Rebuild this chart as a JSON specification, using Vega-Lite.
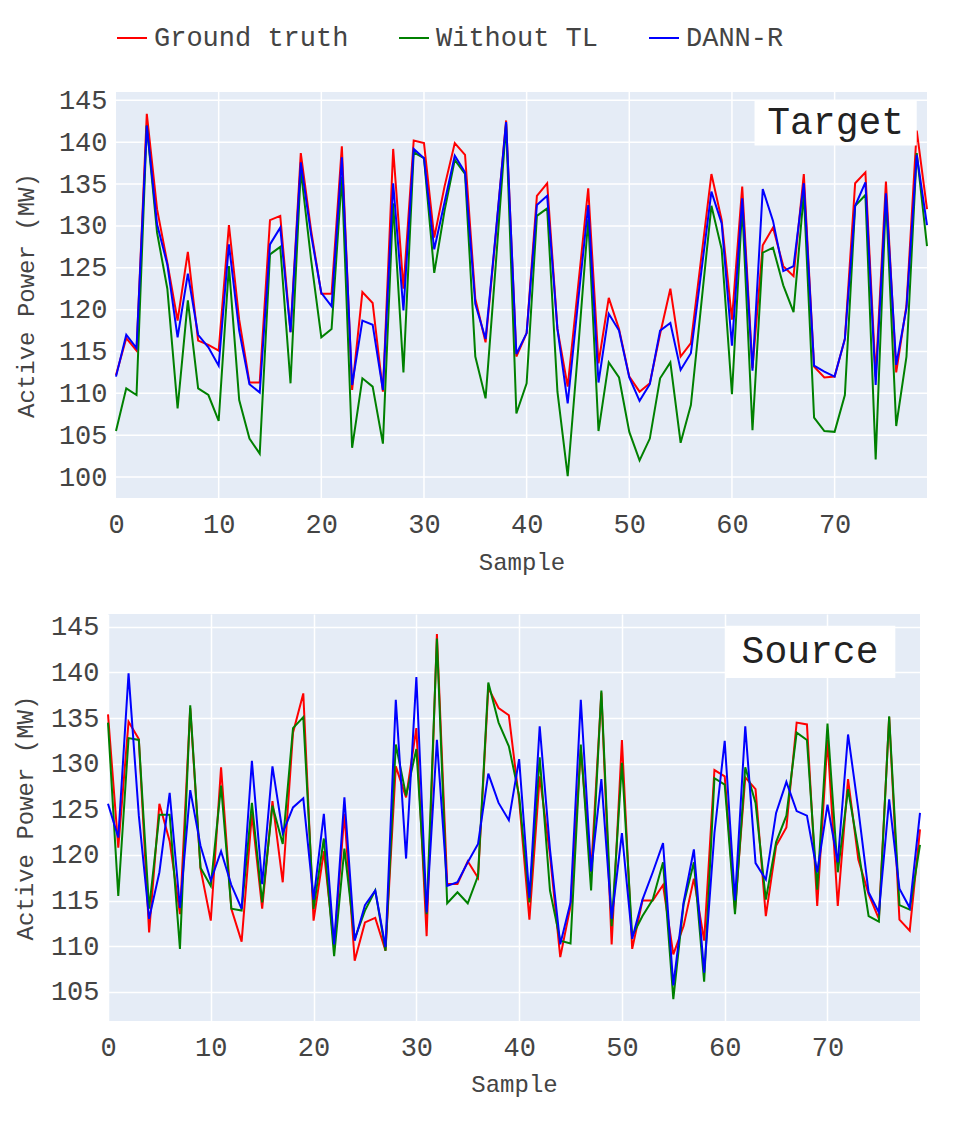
{
  "$schema": "https://vega.github.io/schema/vega-lite/v6.json",
  "background": "white",
  "padding": {"left": 13, "top": 22, "right": 10, "bottom": 10},
  "config": {
    "font": "Liberation Mono",
    "view": {"fill": "#E5ECF6", "stroke": null},
    "axis": {
      "grid": true,
      "gridColor": "white",
      "gridWidth": 1.5,
      "domain": false,
      "ticks": false,
      "labelFont": "Liberation Mono",
      "labelFontSize": 27,
      "labelColor": "#444",
      "titleFont": "Liberation Mono",
      "titleFontSize": 24,
      "titleColor": "#444",
      "titleFontWeight": "normal"
    },
    "legend": {
      "labelFont": "Liberation Mono",
      "labelFontSize": 27,
      "labelColor": "#444",
      "labelLimit": 0,
      "symbolType": "stroke",
      "symbolSize": 900,
      "symbolStrokeWidth": 2,
      "labelOffset": 6,
      "columnPadding": 46,
      "padding": 0
    }
  },
  "datasets": {
    "target": [
      {"sample": 0, "Ground truth": 112.2, "Without TL": 105.5, "DANN-R": 112.0},
      {"sample": 1, "Ground truth": 116.6, "Without TL": 110.6, "DANN-R": 117.0},
      {"sample": 2, "Ground truth": 115.1, "Without TL": 109.8, "DANN-R": 115.4},
      {"sample": 3, "Ground truth": 143.4, "Without TL": 142.0, "DANN-R": 142.0},
      {"sample": 4, "Ground truth": 132.0, "Without TL": 129.2, "DANN-R": 130.2},
      {"sample": 5, "Ground truth": 125.6, "Without TL": 122.5, "DANN-R": 125.4},
      {"sample": 6, "Ground truth": 118.7, "Without TL": 108.2, "DANN-R": 116.7},
      {"sample": 7, "Ground truth": 126.9, "Without TL": 121.1, "DANN-R": 124.3},
      {"sample": 8, "Ground truth": 116.3, "Without TL": 110.6, "DANN-R": 117.0},
      {"sample": 9, "Ground truth": 115.8, "Without TL": 109.8, "DANN-R": 115.5},
      {"sample": 10, "Ground truth": 115.1, "Without TL": 106.7, "DANN-R": 113.3},
      {"sample": 11, "Ground truth": 130.1, "Without TL": 125.2, "DANN-R": 127.8},
      {"sample": 12, "Ground truth": 118.8, "Without TL": 109.2, "DANN-R": 117.5},
      {"sample": 13, "Ground truth": 111.3, "Without TL": 104.6, "DANN-R": 111.1},
      {"sample": 14, "Ground truth": 111.3, "Without TL": 102.8, "DANN-R": 110.1},
      {"sample": 15, "Ground truth": 130.7, "Without TL": 126.6, "DANN-R": 127.8},
      {"sample": 16, "Ground truth": 131.2, "Without TL": 127.5, "DANN-R": 129.8},
      {"sample": 17, "Ground truth": 117.3, "Without TL": 111.2, "DANN-R": 117.3},
      {"sample": 18, "Ground truth": 138.7, "Without TL": 136.7, "DANN-R": 137.6},
      {"sample": 19, "Ground truth": 129.5, "Without TL": 126.0, "DANN-R": 129.0},
      {"sample": 20, "Ground truth": 121.9, "Without TL": 116.7, "DANN-R": 122.0},
      {"sample": 21, "Ground truth": 121.9, "Without TL": 117.7, "DANN-R": 120.4},
      {"sample": 22, "Ground truth": 139.5, "Without TL": 135.9, "DANN-R": 138.2},
      {"sample": 23, "Ground truth": 110.4, "Without TL": 103.5, "DANN-R": 111.0},
      {"sample": 24, "Ground truth": 122.1, "Without TL": 111.8, "DANN-R": 118.7},
      {"sample": 25, "Ground truth": 120.8, "Without TL": 110.8, "DANN-R": 118.2},
      {"sample": 26, "Ground truth": 110.2, "Without TL": 104.0, "DANN-R": 110.4},
      {"sample": 27, "Ground truth": 139.2, "Without TL": 132.7, "DANN-R": 135.1},
      {"sample": 28, "Ground truth": 122.5, "Without TL": 112.5, "DANN-R": 119.9},
      {"sample": 29, "Ground truth": 140.2, "Without TL": 138.8, "DANN-R": 139.2},
      {"sample": 30, "Ground truth": 139.9, "Without TL": 138.1, "DANN-R": 138.1},
      {"sample": 31, "Ground truth": 128.6, "Without TL": 124.4, "DANN-R": 127.2},
      {"sample": 32, "Ground truth": 134.7, "Without TL": 131.8, "DANN-R": 132.8},
      {"sample": 33, "Ground truth": 139.9, "Without TL": 137.9, "DANN-R": 138.4},
      {"sample": 34, "Ground truth": 138.5, "Without TL": 136.2, "DANN-R": 136.4},
      {"sample": 35, "Ground truth": 121.3, "Without TL": 114.4, "DANN-R": 120.7},
      {"sample": 36, "Ground truth": 116.1, "Without TL": 109.4, "DANN-R": 116.5},
      {"sample": 37, "Ground truth": 129.0, "Without TL": 125.5, "DANN-R": 129.2},
      {"sample": 38, "Ground truth": 142.6, "Without TL": 142.2, "DANN-R": 142.4},
      {"sample": 39, "Ground truth": 114.4, "Without TL": 107.6, "DANN-R": 114.7},
      {"sample": 40, "Ground truth": 117.2, "Without TL": 111.2, "DANN-R": 117.2},
      {"sample": 41, "Ground truth": 133.6, "Without TL": 131.2, "DANN-R": 132.5},
      {"sample": 42, "Ground truth": 135.1, "Without TL": 132.1, "DANN-R": 133.6},
      {"sample": 43, "Ground truth": 117.7, "Without TL": 110.2, "DANN-R": 117.7},
      {"sample": 44, "Ground truth": 110.8, "Without TL": 100.1, "DANN-R": 108.8},
      {"sample": 45, "Ground truth": 122.6, "Without TL": 115.0, "DANN-R": 120.8},
      {"sample": 46, "Ground truth": 134.5, "Without TL": 130.8, "DANN-R": 132.5},
      {"sample": 47, "Ground truth": 113.6, "Without TL": 105.5, "DANN-R": 111.3},
      {"sample": 48, "Ground truth": 121.4, "Without TL": 113.7, "DANN-R": 119.5},
      {"sample": 49, "Ground truth": 117.7, "Without TL": 111.9, "DANN-R": 117.5},
      {"sample": 50, "Ground truth": 112.0, "Without TL": 105.4, "DANN-R": 111.9},
      {"sample": 51, "Ground truth": 110.2, "Without TL": 102.0, "DANN-R": 109.1},
      {"sample": 52, "Ground truth": 111.2, "Without TL": 104.6, "DANN-R": 111.1},
      {"sample": 53, "Ground truth": 117.1, "Without TL": 111.8, "DANN-R": 117.5},
      {"sample": 54, "Ground truth": 122.5, "Without TL": 113.7, "DANN-R": 118.4},
      {"sample": 55, "Ground truth": 114.4, "Without TL": 104.1, "DANN-R": 112.8},
      {"sample": 56, "Ground truth": 116.0, "Without TL": 108.6, "DANN-R": 114.8},
      {"sample": 57, "Ground truth": 126.1, "Without TL": 120.5, "DANN-R": 124.4},
      {"sample": 58, "Ground truth": 136.2, "Without TL": 132.4, "DANN-R": 134.1},
      {"sample": 59, "Ground truth": 130.7, "Without TL": 127.2, "DANN-R": 130.3},
      {"sample": 60, "Ground truth": 118.8, "Without TL": 109.9, "DANN-R": 115.7},
      {"sample": 61, "Ground truth": 134.7, "Without TL": 132.4, "DANN-R": 133.3},
      {"sample": 62, "Ground truth": 113.0, "Without TL": 105.6, "DANN-R": 112.7},
      {"sample": 63, "Ground truth": 127.7, "Without TL": 126.8, "DANN-R": 134.4},
      {"sample": 64, "Ground truth": 129.8, "Without TL": 127.4, "DANN-R": 130.6},
      {"sample": 65, "Ground truth": 125.2, "Without TL": 122.9, "DANN-R": 124.6},
      {"sample": 66, "Ground truth": 124.0, "Without TL": 119.7, "DANN-R": 125.2},
      {"sample": 67, "Ground truth": 136.2, "Without TL": 133.9, "DANN-R": 135.1},
      {"sample": 68, "Ground truth": 113.2, "Without TL": 107.1, "DANN-R": 113.3},
      {"sample": 69, "Ground truth": 111.9, "Without TL": 105.5, "DANN-R": 112.6},
      {"sample": 70, "Ground truth": 112.0, "Without TL": 105.4, "DANN-R": 112.0},
      {"sample": 71, "Ground truth": 116.5, "Without TL": 109.8, "DANN-R": 116.5},
      {"sample": 72, "Ground truth": 135.1, "Without TL": 132.4, "DANN-R": 132.4},
      {"sample": 73, "Ground truth": 136.4, "Without TL": 133.7, "DANN-R": 135.2},
      {"sample": 74, "Ground truth": 112.0, "Without TL": 102.1, "DANN-R": 111.0},
      {"sample": 75, "Ground truth": 135.3, "Without TL": 133.5, "DANN-R": 133.9},
      {"sample": 76, "Ground truth": 112.5, "Without TL": 106.1, "DANN-R": 113.4},
      {"sample": 77, "Ground truth": 120.5, "Without TL": 114.4, "DANN-R": 120.2},
      {"sample": 78, "Ground truth": 141.4, "Without TL": 138.7, "DANN-R": 138.5},
      {"sample": 79, "Ground truth": 132.0, "Without TL": 127.6, "DANN-R": 130.1}
    ],
    "source": [
      {"sample": 0, "Ground truth": 135.4, "Without TL": 134.5, "DANN-R": 125.6},
      {"sample": 1, "Ground truth": 120.8, "Without TL": 115.5, "DANN-R": 121.9},
      {"sample": 2, "Ground truth": 134.6, "Without TL": 132.8, "DANN-R": 139.9},
      {"sample": 3, "Ground truth": 132.7, "Without TL": 132.6, "DANN-R": 124.3},
      {"sample": 4, "Ground truth": 111.5, "Without TL": 114.1, "DANN-R": 113.0},
      {"sample": 5, "Ground truth": 125.6, "Without TL": 124.4, "DANN-R": 118.1},
      {"sample": 6, "Ground truth": 121.5, "Without TL": 124.4, "DANN-R": 126.8},
      {"sample": 7, "Ground truth": 113.5, "Without TL": 109.7, "DANN-R": 114.2},
      {"sample": 8, "Ground truth": 136.1, "Without TL": 136.4, "DANN-R": 127.1},
      {"sample": 9, "Ground truth": 118.5, "Without TL": 118.6, "DANN-R": 121.0},
      {"sample": 10, "Ground truth": 112.8, "Without TL": 116.6, "DANN-R": 117.2},
      {"sample": 11, "Ground truth": 129.6, "Without TL": 127.6, "DANN-R": 120.4},
      {"sample": 12, "Ground truth": 114.1, "Without TL": 114.1, "DANN-R": 116.7},
      {"sample": 13, "Ground truth": 110.5, "Without TL": 113.9, "DANN-R": 114.1},
      {"sample": 14, "Ground truth": 124.5, "Without TL": 125.7, "DANN-R": 130.3},
      {"sample": 15, "Ground truth": 114.1, "Without TL": 114.8, "DANN-R": 116.8},
      {"sample": 16, "Ground truth": 125.9, "Without TL": 125.4, "DANN-R": 129.7},
      {"sample": 17, "Ground truth": 117.0, "Without TL": 121.2, "DANN-R": 122.4},
      {"sample": 18, "Ground truth": 133.4, "Without TL": 133.9, "DANN-R": 125.2},
      {"sample": 19, "Ground truth": 137.7, "Without TL": 135.1, "DANN-R": 126.2},
      {"sample": 20, "Ground truth": 112.8, "Without TL": 114.1, "DANN-R": 115.1},
      {"sample": 21, "Ground truth": 120.4, "Without TL": 121.8, "DANN-R": 124.5},
      {"sample": 22, "Ground truth": 110.0, "Without TL": 108.9, "DANN-R": 110.2},
      {"sample": 23, "Ground truth": 124.5, "Without TL": 120.7, "DANN-R": 126.3},
      {"sample": 24, "Ground truth": 108.4, "Without TL": 110.8, "DANN-R": 110.6},
      {"sample": 25, "Ground truth": 112.6, "Without TL": 113.9, "DANN-R": 114.5},
      {"sample": 26, "Ground truth": 113.1, "Without TL": 116.1, "DANN-R": 116.1},
      {"sample": 27, "Ground truth": 109.5, "Without TL": 109.5, "DANN-R": 109.9},
      {"sample": 28, "Ground truth": 129.7, "Without TL": 132.1, "DANN-R": 137.0},
      {"sample": 29, "Ground truth": 126.3, "Without TL": 126.5, "DANN-R": 119.6},
      {"sample": 30, "Ground truth": 133.9, "Without TL": 131.6, "DANN-R": 139.5},
      {"sample": 31, "Ground truth": 111.1, "Without TL": 113.5, "DANN-R": 113.7},
      {"sample": 32, "Ground truth": 144.2, "Without TL": 143.7, "DANN-R": 132.6},
      {"sample": 33, "Ground truth": 116.8, "Without TL": 114.7, "DANN-R": 116.6},
      {"sample": 34, "Ground truth": 116.8, "Without TL": 115.9, "DANN-R": 117.0},
      {"sample": 35, "Ground truth": 119.3, "Without TL": 114.7, "DANN-R": 119.2},
      {"sample": 36, "Ground truth": 117.5, "Without TL": 117.7, "DANN-R": 121.2},
      {"sample": 37, "Ground truth": 138.3, "Without TL": 138.9, "DANN-R": 128.9},
      {"sample": 38, "Ground truth": 136.1, "Without TL": 134.5, "DANN-R": 125.7},
      {"sample": 39, "Ground truth": 135.3, "Without TL": 131.9, "DANN-R": 123.8},
      {"sample": 40, "Ground truth": 126.0, "Without TL": 126.5, "DANN-R": 130.5},
      {"sample": 41, "Ground truth": 112.9, "Without TL": 114.8, "DANN-R": 115.3},
      {"sample": 42, "Ground truth": 128.6, "Without TL": 130.7, "DANN-R": 134.1},
      {"sample": 43, "Ground truth": 120.0, "Without TL": 116.1, "DANN-R": 120.6},
      {"sample": 44, "Ground truth": 108.8, "Without TL": 110.6, "DANN-R": 110.2},
      {"sample": 45, "Ground truth": 114.4, "Without TL": 110.3, "DANN-R": 114.8},
      {"sample": 46, "Ground truth": 131.6, "Without TL": 132.1, "DANN-R": 137.0},
      {"sample": 47, "Ground truth": 118.1, "Without TL": 116.1, "DANN-R": 118.2},
      {"sample": 48, "Ground truth": 137.8, "Without TL": 138.0, "DANN-R": 128.3},
      {"sample": 49, "Ground truth": 110.2, "Without TL": 112.2, "DANN-R": 113.0},
      {"sample": 50, "Ground truth": 132.6, "Without TL": 130.1, "DANN-R": 122.4},
      {"sample": 51, "Ground truth": 109.7, "Without TL": 111.1, "DANN-R": 110.8},
      {"sample": 52, "Ground truth": 115.0, "Without TL": 113.3, "DANN-R": 115.1},
      {"sample": 53, "Ground truth": 115.0, "Without TL": 115.1, "DANN-R": 118.1},
      {"sample": 54, "Ground truth": 116.7, "Without TL": 119.2, "DANN-R": 121.3},
      {"sample": 55, "Ground truth": 109.1, "Without TL": 104.2, "DANN-R": 105.7},
      {"sample": 56, "Ground truth": 112.2, "Without TL": 114.6, "DANN-R": 114.8},
      {"sample": 57, "Ground truth": 117.4, "Without TL": 119.2, "DANN-R": 120.6},
      {"sample": 58, "Ground truth": 110.6, "Without TL": 106.1, "DANN-R": 107.1},
      {"sample": 59, "Ground truth": 129.3, "Without TL": 128.4, "DANN-R": 122.4},
      {"sample": 60, "Ground truth": 128.6, "Without TL": 127.7, "DANN-R": 132.5},
      {"sample": 61, "Ground truth": 114.0, "Without TL": 113.5, "DANN-R": 115.0},
      {"sample": 62, "Ground truth": 128.5, "Without TL": 129.6, "DANN-R": 134.1},
      {"sample": 63, "Ground truth": 127.2, "Without TL": 125.7, "DANN-R": 119.1},
      {"sample": 64, "Ground truth": 113.3, "Without TL": 115.1, "DANN-R": 117.3},
      {"sample": 65, "Ground truth": 121.0, "Without TL": 121.4, "DANN-R": 124.6},
      {"sample": 66, "Ground truth": 123.0, "Without TL": 124.3, "DANN-R": 128.0},
      {"sample": 67, "Ground truth": 134.5, "Without TL": 133.4, "DANN-R": 124.8},
      {"sample": 68, "Ground truth": 134.3, "Without TL": 132.6, "DANN-R": 124.3},
      {"sample": 69, "Ground truth": 114.4, "Without TL": 116.2, "DANN-R": 118.1},
      {"sample": 70, "Ground truth": 132.6, "Without TL": 134.4, "DANN-R": 125.5},
      {"sample": 71, "Ground truth": 114.4, "Without TL": 118.1, "DANN-R": 119.2},
      {"sample": 72, "Ground truth": 128.3, "Without TL": 127.2, "DANN-R": 133.2},
      {"sample": 73, "Ground truth": 119.5, "Without TL": 120.6, "DANN-R": 125.0},
      {"sample": 74, "Ground truth": 115.7, "Without TL": 113.3, "DANN-R": 115.9},
      {"sample": 75, "Ground truth": 113.0, "Without TL": 112.7, "DANN-R": 113.7},
      {"sample": 76, "Ground truth": 135.1, "Without TL": 135.2, "DANN-R": 126.1},
      {"sample": 77, "Ground truth": 112.9, "Without TL": 114.5, "DANN-R": 116.3},
      {"sample": 78, "Ground truth": 111.7, "Without TL": 114.0, "DANN-R": 114.2},
      {"sample": 79, "Ground truth": 122.8, "Without TL": 121.1, "DANN-R": 124.6}
    ],
    "targetYGrid": [
      {"v": 100}, {"v": 105}, {"v": 110}, {"v": 115}, {"v": 120},
      {"v": 125}, {"v": 130}, {"v": 135}, {"v": 140}, {"v": 145}
    ],
    "targetXGrid": [
      {"v": 10}, {"v": 20}, {"v": 30}, {"v": 40}, {"v": 50}, {"v": 60}, {"v": 70}
    ]
  },
  "spacing": 38,
  "resolve": {"scale": {"color": "independent"}},
  "vconcat": [
    {
      "width": 819,
      "height": 406,
      "view": {"fill": "white", "stroke": null},
      "layer": [
        {
          "data": {"values": [{"panel": "Target"}]},
          "mark": {"type": "rect", "fill": "#E5ECF6"},
          "encoding": {
            "x": {"datum": 0, "type": "quantitative"},
            "x2": {"datum": 79},
            "y": {"datum": 97.5, "type": "quantitative"},
            "y2": {"datum": 146}
          }
        },
        {
          "data": {"name": "targetYGrid"},
          "mark": {"type": "rule", "color": "white", "strokeWidth": 1.5},
          "encoding": {
            "y": {"field": "v", "type": "quantitative"},
            "x": {"datum": 0, "type": "quantitative"},
            "x2": {"datum": 79}
          }
        },
        {
          "data": {"name": "targetXGrid"},
          "mark": {"type": "rule", "color": "white", "strokeWidth": 1.5},
          "encoding": {
            "x": {"field": "v", "type": "quantitative"},
            "y": {"datum": 97.5, "type": "quantitative"},
            "y2": {"datum": 146}
          }
        },
        {
          "data": {"name": "target"},
          "transform": [
            {"fold": ["Ground truth", "Without TL", "DANN-R"], "as": ["series", "power"]}
          ],
          "mark": {"type": "line", "strokeWidth": 2},
          "encoding": {
            "x": {
              "field": "sample",
              "type": "quantitative",
              "scale": {"domain": [0, 79], "nice": false, "range": [8, 819]},
              "axis": {"title": "Sample", "grid": false, "values": [0, 10, 20, 30, 40, 50, 60, 70], "labelPadding": 13, "titlePadding": 13, "labelFlush": false}
            },
            "y": {
              "field": "power",
              "type": "quantitative",
              "scale": {"domain": [97.5, 146], "nice": false, "zero": false},
              "axis": {"title": "Active Power (MW)", "grid": false, "values": [100, 105, 110, 115, 120, 125, 130, 135, 140, 145], "labelPadding": 1, "titlePadding": 20}
            },
            "color": {
              "field": "series",
              "type": "nominal",
              "scale": {"domain": ["Ground truth", "Without TL", "DANN-R"], "range": ["red", "green", "blue"]},
              "legend": {"title": null, "orient": "none", "direction": "horizontal", "legendX": 8, "legendY": -70}
            }
          }
        },
        {
          "data": {"values": [{"label": "Target"}]},
          "mark": {"type": "rect", "fill": "white"},
          "encoding": {
            "x": {"datum": 62.2, "type": "quantitative"},
            "x2": {"datum": 78.0},
            "y": {"datum": 145.0, "type": "quantitative"},
            "y2": {"datum": 139.6}
          }
        },
        {
          "data": {"values": [{"label": "Target"}]},
          "mark": {"type": "text", "font": "Liberation Mono", "fontSize": 38, "color": "#222", "align": "center", "baseline": "middle"},
          "encoding": {
            "x": {"datum": 70.1, "type": "quantitative"},
            "y": {"datum": 142.3, "type": "quantitative"},
            "text": {"field": "label"}
          }
        }
      ]
    },
    {
      "width": 812,
      "height": 407,
      "layer": [
        {
          "data": {"name": "source"},
          "transform": [
            {"fold": ["Ground truth", "Without TL", "DANN-R"], "as": ["series", "power"]}
          ],
          "mark": {"type": "line", "strokeWidth": 2},
          "encoding": {
            "x": {
              "field": "sample",
              "type": "quantitative",
              "scale": {"domain": [0, 79], "nice": false},
              "axis": {"title": "Sample", "values": [0, 10, 20, 30, 40, 50, 60, 70], "labelPadding": 13, "titlePadding": 12, "labelFlush": false}
            },
            "y": {
              "field": "power",
              "type": "quantitative",
              "scale": {"domain": [101.8, 146.4], "nice": false, "zero": false},
              "axis": {"title": "Active Power (MW)", "values": [105, 110, 115, 120, 125, 130, 135, 140, 145], "labelPadding": 9, "titlePadding": 13}
            },
            "color": {
              "field": "series",
              "type": "nominal",
              "scale": {"domain": ["Ground truth", "Without TL", "DANN-R"], "range": ["red", "green", "blue"]},
              "legend": null
            }
          }
        },
        {
          "data": {"values": [{"label": "Source"}]},
          "mark": {"type": "rect", "fill": "white"},
          "encoding": {
            "x": {"datum": 60.1, "type": "quantitative"},
            "x2": {"datum": 76.6},
            "y": {"datum": 145.1, "type": "quantitative"},
            "y2": {"datum": 139.4}
          }
        },
        {
          "data": {"values": [{"label": "Source"}]},
          "mark": {"type": "text", "font": "Liberation Mono", "fontSize": 38, "color": "#222", "align": "center", "baseline": "middle"},
          "encoding": {
            "x": {"datum": 68.3, "type": "quantitative"},
            "y": {"datum": 142.2, "type": "quantitative"},
            "text": {"field": "label"}
          }
        }
      ]
    }
  ]
}
